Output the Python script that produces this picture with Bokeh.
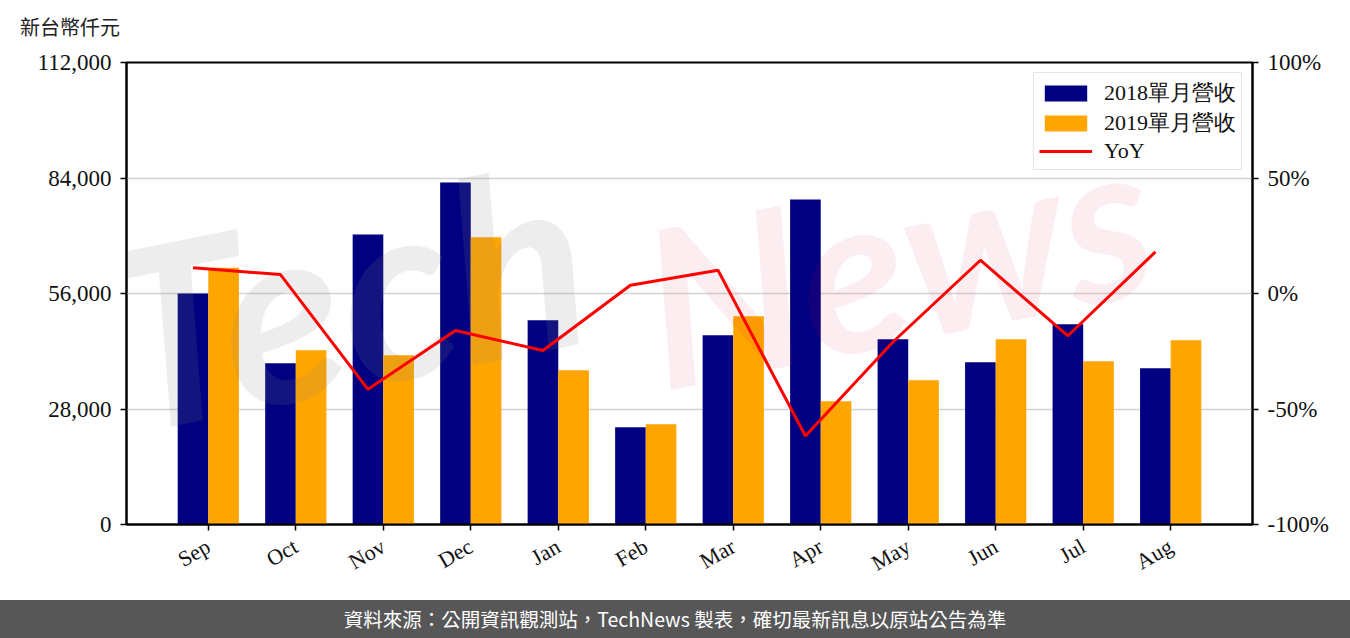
import math
from bokeh.plotting import figure
from bokeh.models import (Range1d, LinearAxis, FixedTicker, NumeralTickFormatter,
                          PrintfTickFormatter, Legend, LegendItem, Div, ColumnDataSource)
from bokeh.layouts import column
from bokeh.embed import file_html
from bokeh.resources import INLINE
from bokeh.core.properties import value

# ---------------- data ----------------
months = ["Sep", "Oct", "Nov", "Dec", "Jan", "Feb", "Mar", "Apr", "May", "Jun", "Jul", "Aug"]
rev_2018 = [56000, 39090, 70330, 82930, 49510, 23590, 45870, 78810, 44900, 39330, 48540, 37880]
rev_2019 = [62270, 42240, 41030, 69610, 37400, 24320, 50470, 29890, 34970, 44900, 39580, 44660]
yoy_pct = [11.1, 8.2, -41.5, -16.0, -24.7, 3.6, 10.1, -61.7, -21.0, 14.4, -18.3, 18.0]
left_ticks = [0, 28000, 56000, 84000, 112000]
right_ticks = [-100, -50, 0, 50, 100]
series_names = ["2018單月營收", "2019單月營收", "YoY"]
unit_label = "新台幣仟元"
footer_text = "資料來源：公開資訊觀測站，TechNews 製表，確切最新訊息以原站公告為準"

BAR_W = 0.35
idx = list(range(len(months)))
src = ColumnDataSource(dict(
    x18=[i - BAR_W / 2 for i in idx],
    x19=[i + BAR_W / 2 for i in idx],
    r18=rev_2018,
    r19=rev_2019,
    yoy=yoy_pct,
))

SERIF = "Liberation Serif"
HEAD_H = 44

header = Div(text=(
    '<div lang="zh-Hant-TW" style="width:1350px;height:%dpx;box-sizing:border-box;'
    'padding-top:14px;padding-left:20px;line-height:26px;color:#222222;'
    'font-family:\'Noto Sans CJK TC\',sans-serif;font-size:20px;background:#ffffff;">'
    % HEAD_H + unit_label + '</div>'), width=1350, height=HEAD_H, margin=0)

p = figure(width=1350, height=600 - HEAD_H,
           x_range=Range1d(-0.935, 11.935), y_range=Range1d(0, 112000),
           output_backend="svg", toolbar_location=None,
           min_border_left=126, min_border_right=98, min_border_top=62 - HEAD_H,
           min_border_bottom=76)
p.extra_y_ranges = {"yoy": Range1d(-100, 100)}

p.background_fill_color = "white"
p.border_fill_color = "white"
p.outline_line_color = "black"
p.outline_line_width = 2
p.outline_line_alpha = 1

# bars
b18 = p.vbar(x="x18", top="r18", width=BAR_W, bottom=0, source=src,
             fill_color="#000080", line_color=None)
b19 = p.vbar(x="x19", top="r19", width=BAR_W, bottom=0, source=src,
             fill_color="#FFA500", line_color=None)

# watermark (decorative)
p.text(x=[-0.8], y=[9000], text=["Tech"], angle=0.2, text_font=value("Lato"),
       text_font_style="bold italic", text_font_size="250px",
       text_color="#888888", text_alpha=0.15)
p.text(x=[5.3], y=[21000], text=["News"], angle=0.2, text_font=value("Lato"),
       text_font_style="bold italic", text_font_size="220px",
       text_color="#d81f3c", text_alpha=0.08)

# yoy line
ln = p.line(x="x18", y="yoy", source=src, y_range_name="yoy",
            line_color="#FF0000", line_width=3)

# axes
p.xgrid.visible = False
p.ygrid.ticker = FixedTicker(ticks=left_ticks)
p.ygrid.grid_line_color = "#d3d3d3"
p.ygrid.grid_line_width = 1.5

p.yaxis.ticker = FixedTicker(ticks=left_ticks)
p.yaxis.formatter = NumeralTickFormatter(format="0,0")

p.xaxis.ticker = FixedTicker(ticks=idx)
p.xaxis.major_label_overrides = {i: m for i, m in zip(idx, months)}
p.xaxis.major_label_orientation = math.radians(30)

ry = LinearAxis(y_range_name="yoy", ticker=FixedTicker(ticks=right_ticks),
                formatter=PrintfTickFormatter(format="%d%%"))
p.add_layout(ry, "right")

for ax in [p.xaxis[0], p.yaxis[0], ry]:
    ax.axis_line_color = "black"
    ax.axis_line_width = 2
    ax.major_tick_line_color = "black"
    ax.major_tick_line_width = 1.5
    ax.major_tick_out = 6
    ax.major_tick_in = 0
    ax.minor_tick_line_color = None
    ax.major_label_text_font = SERIF
    ax.major_label_text_font_size = "23px"
    ax.major_label_text_color = "#111111"
    ax.major_label_standoff = 9
p.xaxis[0].major_label_standoff = 14
p.xaxis[0].major_label_text_font_size = "22px"

# legend
legend = Legend(items=[
    LegendItem(label=series_names[0], renderers=[b18]),
    LegendItem(label=series_names[1], renderers=[b19]),
    LegendItem(label=series_names[2], renderers=[ln]),
], location="top_right")
legend.label_text_font = SERIF
legend.label_text_font_size = "22px"
legend.label_text_color = "#111111"
legend.glyph_width = 53
legend.glyph_height = 20
legend.label_height = 22
legend.label_standoff = 12
legend.spacing = 0
legend.padding = 5
legend.margin = 10
legend.border_line_color = "#cccccc"
legend.border_line_width = 1.5
legend.background_fill_alpha = 0.85
p.add_layout(legend)

footer = Div(text=(
    '<div lang="zh-Hant-TW" style="width:1350px;height:38px;line-height:38px;background:#575757;'
    'color:#ffffff;text-align:center;font-family:\'Noto Sans CJK TC\',sans-serif;'
    'font-size:19.5px;">' + footer_text + '</div>'), width=1350, height=38, margin=0)

layout = column(header, p, footer, spacing=0)
open("out.html", "w").write(file_html(layout, INLINE))
